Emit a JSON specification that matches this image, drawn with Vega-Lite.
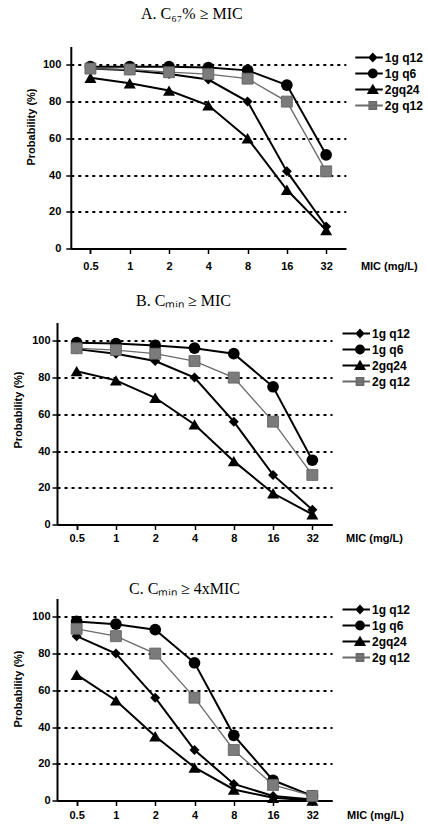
{
  "$schema": "https://vega.github.io/schema/vega-lite/v6.json",
  "background": "white",
  "padding": {"left": 12, "top": 5.5, "right": 0, "bottom": 0},
  "datasets": {
    "prob": [
      {"panel": "A", "series": "1g q12", "mic": "0.5", "p": 98},
      {"panel": "A", "series": "1g q12", "mic": "1", "p": 97},
      {"panel": "A", "series": "1g q12", "mic": "2", "p": 95},
      {"panel": "A", "series": "1g q12", "mic": "4", "p": 92},
      {"panel": "A", "series": "1g q12", "mic": "8", "p": 80},
      {"panel": "A", "series": "1g q12", "mic": "16", "p": 42},
      {"panel": "A", "series": "1g q12", "mic": "32", "p": 12},
      {"panel": "A", "series": "1g q6", "mic": "0.5", "p": 99},
      {"panel": "A", "series": "1g q6", "mic": "1", "p": 99},
      {"panel": "A", "series": "1g q6", "mic": "2", "p": 99},
      {"panel": "A", "series": "1g q6", "mic": "4", "p": 98.5},
      {"panel": "A", "series": "1g q6", "mic": "8", "p": 97},
      {"panel": "A", "series": "1g q6", "mic": "16", "p": 89},
      {"panel": "A", "series": "1g q6", "mic": "32", "p": 51},
      {"panel": "A", "series": "2gq24", "mic": "0.5", "p": 93},
      {"panel": "A", "series": "2gq24", "mic": "1", "p": 90},
      {"panel": "A", "series": "2gq24", "mic": "2", "p": 86},
      {"panel": "A", "series": "2gq24", "mic": "4", "p": 78},
      {"panel": "A", "series": "2gq24", "mic": "8", "p": 60},
      {"panel": "A", "series": "2gq24", "mic": "16", "p": 32},
      {"panel": "A", "series": "2gq24", "mic": "32", "p": 10},
      {"panel": "A", "series": "2g q12", "mic": "0.5", "p": 98},
      {"panel": "A", "series": "2g q12", "mic": "1", "p": 97.5},
      {"panel": "A", "series": "2g q12", "mic": "2", "p": 96},
      {"panel": "A", "series": "2g q12", "mic": "4", "p": 95},
      {"panel": "A", "series": "2g q12", "mic": "8", "p": 92.5},
      {"panel": "A", "series": "2g q12", "mic": "16", "p": 80},
      {"panel": "A", "series": "2g q12", "mic": "32", "p": 42},
      {"panel": "B", "series": "1g q12", "mic": "0.5", "p": 95.5},
      {"panel": "B", "series": "1g q12", "mic": "1", "p": 93},
      {"panel": "B", "series": "1g q12", "mic": "2", "p": 89},
      {"panel": "B", "series": "1g q12", "mic": "4", "p": 80},
      {"panel": "B", "series": "1g q12", "mic": "8", "p": 56},
      {"panel": "B", "series": "1g q12", "mic": "16", "p": 27},
      {"panel": "B", "series": "1g q12", "mic": "32", "p": 8},
      {"panel": "B", "series": "1g q6", "mic": "0.5", "p": 99},
      {"panel": "B", "series": "1g q6", "mic": "1", "p": 98.5},
      {"panel": "B", "series": "1g q6", "mic": "2", "p": 97.5},
      {"panel": "B", "series": "1g q6", "mic": "4", "p": 96},
      {"panel": "B", "series": "1g q6", "mic": "8", "p": 93},
      {"panel": "B", "series": "1g q6", "mic": "16", "p": 75},
      {"panel": "B", "series": "1g q6", "mic": "32", "p": 35},
      {"panel": "B", "series": "2gq24", "mic": "0.5", "p": 83.5},
      {"panel": "B", "series": "2gq24", "mic": "1", "p": 78.5},
      {"panel": "B", "series": "2gq24", "mic": "2", "p": 69},
      {"panel": "B", "series": "2gq24", "mic": "4", "p": 54.5},
      {"panel": "B", "series": "2gq24", "mic": "8", "p": 34.5},
      {"panel": "B", "series": "2gq24", "mic": "16", "p": 17},
      {"panel": "B", "series": "2gq24", "mic": "32", "p": 5.5},
      {"panel": "B", "series": "2g q12", "mic": "0.5", "p": 96},
      {"panel": "B", "series": "2g q12", "mic": "1", "p": 95},
      {"panel": "B", "series": "2g q12", "mic": "2", "p": 93},
      {"panel": "B", "series": "2g q12", "mic": "4", "p": 89},
      {"panel": "B", "series": "2g q12", "mic": "8", "p": 80},
      {"panel": "B", "series": "2g q12", "mic": "16", "p": 56},
      {"panel": "B", "series": "2g q12", "mic": "32", "p": 27},
      {"panel": "C", "series": "1g q12", "mic": "0.5", "p": 89.5},
      {"panel": "C", "series": "1g q12", "mic": "1", "p": 80},
      {"panel": "C", "series": "1g q12", "mic": "2", "p": 56},
      {"panel": "C", "series": "1g q12", "mic": "4", "p": 27.5},
      {"panel": "C", "series": "1g q12", "mic": "8", "p": 9},
      {"panel": "C", "series": "1g q12", "mic": "16", "p": 2.5},
      {"panel": "C", "series": "1g q12", "mic": "32", "p": 0.5},
      {"panel": "C", "series": "1g q6", "mic": "0.5", "p": 97.5},
      {"panel": "C", "series": "1g q6", "mic": "1", "p": 96},
      {"panel": "C", "series": "1g q6", "mic": "2", "p": 93},
      {"panel": "C", "series": "1g q6", "mic": "4", "p": 75},
      {"panel": "C", "series": "1g q6", "mic": "8", "p": 35.5},
      {"panel": "C", "series": "1g q6", "mic": "16", "p": 11},
      {"panel": "C", "series": "1g q6", "mic": "32", "p": 2.5},
      {"panel": "C", "series": "2gq24", "mic": "0.5", "p": 68.5},
      {"panel": "C", "series": "2gq24", "mic": "1", "p": 54.5},
      {"panel": "C", "series": "2gq24", "mic": "2", "p": 35},
      {"panel": "C", "series": "2gq24", "mic": "4", "p": 18},
      {"panel": "C", "series": "2gq24", "mic": "8", "p": 6},
      {"panel": "C", "series": "2gq24", "mic": "16", "p": 1.5},
      {"panel": "C", "series": "2gq24", "mic": "32", "p": 0},
      {"panel": "C", "series": "2g q12", "mic": "0.5", "p": 93.5},
      {"panel": "C", "series": "2g q12", "mic": "1", "p": 89.5},
      {"panel": "C", "series": "2g q12", "mic": "2", "p": 80},
      {"panel": "C", "series": "2g q12", "mic": "4", "p": 56},
      {"panel": "C", "series": "2g q12", "mic": "8", "p": 27.5},
      {"panel": "C", "series": "2g q12", "mic": "16", "p": 8.5},
      {"panel": "C", "series": "2g q12", "mic": "32", "p": 2.5}
    ]
  },
  "spacing": 21,
  "resolve": {
    "scale": {"x": "independent", "y": "independent", "shape": "independent", "fill": "independent", "stroke": "independent"},
    "legend": {"shape": "independent", "fill": "independent", "stroke": "independent"}
  },
  "vconcat": [
    {
      "width": 288.8,
      "height": 202,
      "data": {"name": "prob"},
      "transform": [{"filter": "datum.panel === 'A'"}],
      "title": {"text": "A. C₆₇% ≥ MIC", "font": "Liberation Serif", "fontSize": 16, "fontWeight": "normal", "color": "#000", "frame": "group", "anchor": "middle", "dx": -9.6, "offset": 11.7, "baseline": "alphabetic"},
      "encoding": {
        "x": {"field": "mic", "type": "ordinal", "sort": ["0.5", "1", "2", "4", "8", "16", "32"], "scale": {"paddingInner": 0, "paddingOuter": 0, "range": [13.8, 288.8]},
              "axis": {"title": "MIC (mg/L)", "titleX": 331.8, "titleY": 17.7, "labelPadding": 12.7}},
        "y": {"field": "p", "type": "quantitative", "scale": {"domain": [0, 110], "nice": false},
              "axis": {"title": "Probability (%)", "offset": -13.8, "values": [0, 20, 40, 60, 80, 100], "labelPadding": 5, "titleX": -39, "titleY": 80}}
      },
      "layer": [
        {"transform": [{"filter": "datum.series !== '2g q12'"}], "mark": {"type": "line", "color": "#000", "strokeWidth": 2}, "encoding": {"detail": {"field": "series"}}},
        {"transform": [{"filter": "datum.series === '2g q12'"}], "mark": {"type": "line", "color": "#6b6b6b", "strokeWidth": 1.3}},
        {"transform": [{"filter": "datum.series === '1g q12'"}], "mark": {"type": "point", "shape": "diamond", "filled": true, "color": "#000", "opacity": 1, "size": 100}},
        {"transform": [{"filter": "datum.series === '1g q6'"}], "mark": {"type": "point", "shape": "circle", "filled": true, "color": "#000", "opacity": 1, "size": 137}},
        {"transform": [{"filter": "datum.series === '2gq24'"}], "mark": {"type": "point", "shape": "triangle-up", "filled": true, "color": "#000", "opacity": 1, "size": 144}},
        {"transform": [{"filter": "datum.series === '2g q12'"}], "mark": {"type": "point", "shape": "square", "filled": true, "fill": "#7b7b7b", "stroke": "#5e5e5e", "strokeWidth": 0.8, "opacity": 1, "size": 121}},
        {
          "mark": {"type": "point", "filled": true, "opacity": 0},
          "encoding": {
            "shape": {"field": "series", "type": "nominal", "scale": {"domain": ["1g q12", "1g q6", "2gq24", "2g q12"], "range": ["M-3.5,0H2M0,-0.75L0.7,0L0,0.75L-0.7,0Z", "M-3.5,0H2M0.8,0A0.8,0.8,0,1,1,-0.8,0A0.8,0.8,0,1,1,0.8,0Z", "M-3.5,0H2M0,-0.8L0.9,0.7L-0.9,0.7Z", "M-3.5,0H2M-0.7,-0.7H0.7V0.7H-0.7Z"]},
                      "legend": {"title": null, "orient": "none", "legendX": 309.8, "legendY": 5}},
            "fill": {"field": "series", "type": "nominal", "scale": {"domain": ["1g q12", "1g q6", "2gq24", "2g q12"], "range": ["#000", "#000", "#000", "#7b7b7b"]},
                     "legend": {"title": null, "orient": "none", "legendX": 309.8, "legendY": 5}},
            "stroke": {"field": "series", "type": "nominal", "scale": {"domain": ["1g q12", "1g q6", "2gq24", "2g q12"], "range": ["#000", "#000", "#000", "#6b6b6b"]},
                       "legend": {"title": null, "orient": "none", "legendX": 309.8, "legendY": 5}}
          }
        }
      ]
    },
    {
      "width": 275,
      "height": 202,
      "data": {"name": "prob"},
      "transform": [{"filter": "datum.panel === 'B'"}],
      "title": {"text": "B. Cₘᵢₙ ≥ MIC", "font": "Liberation Serif", "fontSize": 16, "fontWeight": "normal", "color": "#000", "frame": "group", "anchor": "middle", "dx": -11, "offset": 0.3, "baseline": "alphabetic"},
      "encoding": {
        "x": {"field": "mic", "type": "ordinal", "sort": ["0.5", "1", "2", "4", "8", "16", "32"], "scale": {"paddingInner": 0, "paddingOuter": 0},
              "axis": {"title": ["MIC (mg/L)", ""], "titleLineHeight": 15, "titleBaseline": "top", "titleX": 317, "titleY": 8.1, "labelPadding": 8.6}},
        "y": {"field": "p", "type": "quantitative", "scale": {"domain": [0, 110], "nice": false},
              "axis": {"title": "Probability (%)", "values": [0, 20, 40, 60, 80, 100], "labelPadding": 2, "titleX": -39, "titleY": 87}}
      },
      "layer": [
        {"transform": [{"filter": "datum.series !== '2g q12'"}], "mark": {"type": "line", "color": "#000", "strokeWidth": 2}, "encoding": {"detail": {"field": "series"}}},
        {"transform": [{"filter": "datum.series === '2g q12'"}], "mark": {"type": "line", "color": "#6b6b6b", "strokeWidth": 1.3}},
        {"transform": [{"filter": "datum.series === '1g q12'"}], "mark": {"type": "point", "shape": "diamond", "filled": true, "color": "#000", "opacity": 1, "size": 100}},
        {"transform": [{"filter": "datum.series === '1g q6'"}], "mark": {"type": "point", "shape": "circle", "filled": true, "color": "#000", "opacity": 1, "size": 137}},
        {"transform": [{"filter": "datum.series === '2gq24'"}], "mark": {"type": "point", "shape": "triangle-up", "filled": true, "color": "#000", "opacity": 1, "size": 144}},
        {"transform": [{"filter": "datum.series === '2g q12'"}], "mark": {"type": "point", "shape": "square", "filled": true, "fill": "#7b7b7b", "stroke": "#5e5e5e", "strokeWidth": 0.8, "opacity": 1, "size": 121}},
        {
          "mark": {"type": "point", "filled": true, "opacity": 0},
          "encoding": {
            "shape": {"field": "series", "type": "nominal", "scale": {"domain": ["1g q12", "1g q6", "2gq24", "2g q12"], "range": ["M-3.5,0H2M0,-0.75L0.7,0L0,0.75L-0.7,0Z", "M-3.5,0H2M0.8,0A0.8,0.8,0,1,1,-0.8,0A0.8,0.8,0,1,1,0.8,0Z", "M-3.5,0H2M0,-0.8L0.9,0.7L-0.9,0.7Z", "M-3.5,0H2M-0.7,-0.7H0.7V0.7H-0.7Z"]},
                      "legend": {"title": null, "orient": "none", "legendX": 297, "legendY": 5}},
            "fill": {"field": "series", "type": "nominal", "scale": {"domain": ["1g q12", "1g q6", "2gq24", "2g q12"], "range": ["#000", "#000", "#000", "#7b7b7b"]},
                     "legend": {"title": null, "orient": "none", "legendX": 297, "legendY": 5}},
            "stroke": {"field": "series", "type": "nominal", "scale": {"domain": ["1g q12", "1g q6", "2gq24", "2g q12"], "range": ["#000", "#000", "#000", "#6b6b6b"]},
                       "legend": {"title": null, "orient": "none", "legendX": 297, "legendY": 5}}
          }
        }
      ]
    },
    {
      "width": 275,
      "height": 202,
      "data": {"name": "prob"},
      "transform": [{"filter": "datum.panel === 'C'"}],
      "title": {"text": "C. Cₘᵢₙ ≥ 4xMIC", "font": "Liberation Serif", "fontSize": 16, "fontWeight": "normal", "color": "#000", "frame": "group", "anchor": "middle", "dx": -10, "offset": -11.4, "baseline": "alphabetic"},
      "encoding": {
        "x": {"field": "mic", "type": "ordinal", "sort": ["0.5", "1", "2", "4", "8", "16", "32"], "scale": {"paddingInner": 0, "paddingOuter": 0},
              "axis": {"title": "MIC (mg/L)", "titleX": 318, "titleY": 15, "labelPadding": 10}},
        "y": {"field": "p", "type": "quantitative", "scale": {"domain": [0, 110], "nice": false},
              "axis": {"title": "Probability (%)", "values": [0, 20, 40, 60, 80, 100], "labelPadding": 2, "titleX": -39, "titleY": 90}}
      },
      "layer": [
        {"transform": [{"filter": "datum.series !== '2g q12'"}], "mark": {"type": "line", "color": "#000", "strokeWidth": 2}, "encoding": {"detail": {"field": "series"}}},
        {"transform": [{"filter": "datum.series === '2g q12'"}], "mark": {"type": "line", "color": "#6b6b6b", "strokeWidth": 1.3}},
        {"transform": [{"filter": "datum.series === '1g q12'"}], "mark": {"type": "point", "shape": "diamond", "filled": true, "color": "#000", "opacity": 1, "size": 100}},
        {"transform": [{"filter": "datum.series === '1g q6'"}], "mark": {"type": "point", "shape": "circle", "filled": true, "color": "#000", "opacity": 1, "size": 137}},
        {"transform": [{"filter": "datum.series === '2gq24'"}], "mark": {"type": "point", "shape": "triangle-up", "filled": true, "color": "#000", "opacity": 1, "size": 144}},
        {"transform": [{"filter": "datum.series === '2g q12'"}], "mark": {"type": "point", "shape": "square", "filled": true, "fill": "#7b7b7b", "stroke": "#5e5e5e", "strokeWidth": 0.8, "opacity": 1, "size": 121}},
        {
          "mark": {"type": "point", "filled": true, "opacity": 0},
          "encoding": {
            "shape": {"field": "series", "type": "nominal", "scale": {"domain": ["1g q12", "1g q6", "2gq24", "2g q12"], "range": ["M-3.5,0H2M0,-0.75L0.7,0L0,0.75L-0.7,0Z", "M-3.5,0H2M0.8,0A0.8,0.8,0,1,1,-0.8,0A0.8,0.8,0,1,1,0.8,0Z", "M-3.5,0H2M0,-0.8L0.9,0.7L-0.9,0.7Z", "M-3.5,0H2M-0.7,-0.7H0.7V0.7H-0.7Z"]},
                      "legend": {"title": null, "orient": "none", "legendX": 297, "legendY": 5}},
            "fill": {"field": "series", "type": "nominal", "scale": {"domain": ["1g q12", "1g q6", "2gq24", "2g q12"], "range": ["#000", "#000", "#000", "#7b7b7b"]},
                     "legend": {"title": null, "orient": "none", "legendX": 297, "legendY": 5}},
            "stroke": {"field": "series", "type": "nominal", "scale": {"domain": ["1g q12", "1g q6", "2gq24", "2g q12"], "range": ["#000", "#000", "#000", "#6b6b6b"]},
                       "legend": {"title": null, "orient": "none", "legendX": 297, "legendY": 5}}
          }
        }
      ]
    }
  ],
  "config": {
    "view": {"stroke": null},
    "font": "Liberation Sans",
    "axis": {
      "labelFont": "Liberation Sans", "labelFontWeight": "bold", "labelFontSize": 11, "labelColor": "#000",
      "titleFont": "Liberation Sans", "titleFontWeight": "bold", "titleFontSize": 11, "titleColor": "#000",
      "domainColor": "#000", "domainWidth": 2, "tickColor": "#000", "tickWidth": 1.5, "tickSize": 5
    },
    "axisX": {"tickBand": "extent", "labelAngle": 0, "grid": false, "labelBaseline": "middle", "titleAlign": "center", "titleBaseline": "middle"},
    "axisY": {"grid": true, "gridDash": [3, 4], "gridColor": "#000", "gridWidth": 2, "titleAngle": 270, "titleAlign": "center", "titleBaseline": "middle"},
    "legend": {
      "labelFont": "Liberation Sans", "labelFontWeight": "bold", "labelFontSize": 12, "labelColor": "#000",
      "symbolSize": 100, "symbolStrokeWidth": 1.8, "symbolFillColor": "#000", "rowPadding": 0, "padding": 0, "labelOffset": 6
    }
  }
}
